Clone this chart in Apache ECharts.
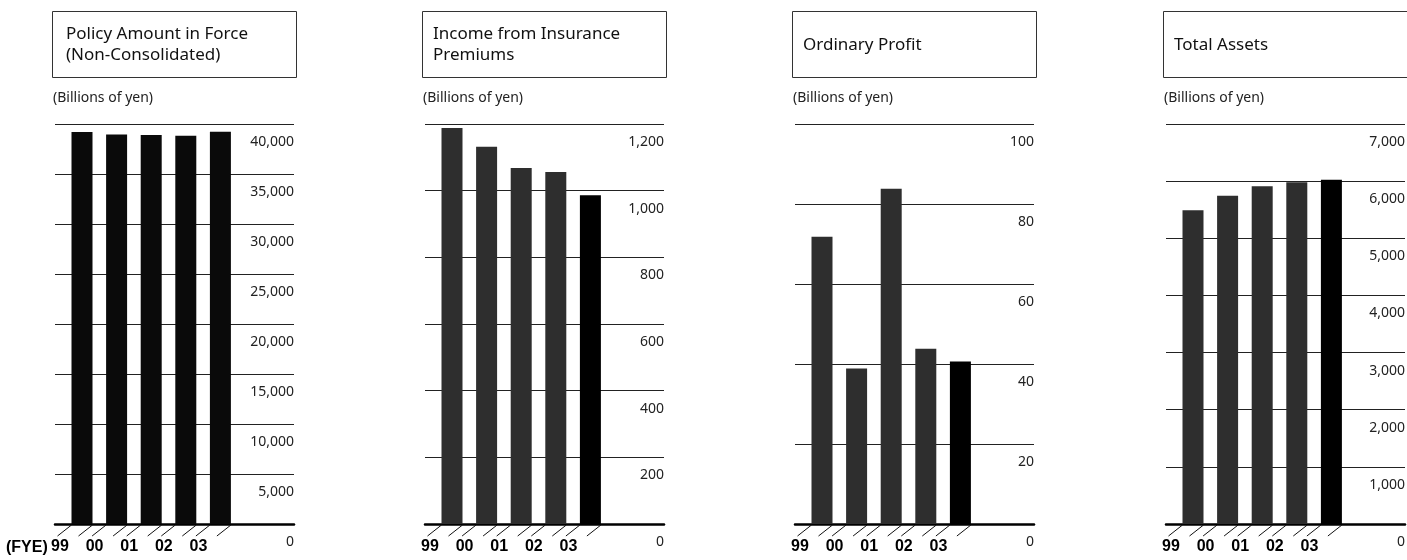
<!DOCTYPE html>
<html>
<head>
<meta charset="utf-8">
<script src="https://cdn.jsdelivr.net/npm/echarts@6/dist/echarts.min.js"></script>
<style>
  html, body { margin: 0; padding: 0; background: #fff; }
  #chart { width: 1407px; height: 560px; }
</style>
</head>
<body>
<div id="chart"></div>
<script>
// Fiscal years (FYE)
const years = ['99', '00', '01', '02', '03'];

// Billions of yen
const policyAmountInForce = [39200, 38960, 38900, 38830, 39230];
const insurancePremiumIncome = [1188, 1132, 1068, 1056, 986];
const ordinaryProfit = [71.8, 38.9, 83.8, 43.8, 40.6];
const totalAssets = [5490, 5745, 5910, 5980, 6025];

// Value axis ranges per panel
const axisMax = [40000, 1200, 100, 7000];
const axisStep = [5000, 200, 20, 1000];

const panelTitles = [
  'Policy Amount in Force\n(Non-Consolidated)',
  'Income from Insurance\nPremiums',
  'Ordinary Profit',
  'Total Assets'
];
const unitLabel = '(Billions of yen)';
const yearPrefix = '(FYE)';

const panelValues = [policyAmountInForce, insurancePremiumIncome, ordinaryProfit, totalAssets];

// Layout
const PANEL_LEFT = [55, 425, 795, 1166];
const PLOT_W = 239;
const PLOT_TOP = 124;
const PLOT_H = 400;
const BAND = 34.6;
const BAR_W = 21;
const FIRST_BAR_OFFSET = 27;
const TITLE_INDENT = [11, 8, 8, 8];

const YEAR_FONT = '"Liberation Sans", Arial, sans-serif';
const TEXT_FONT = '"Noto Sans", "Open Sans", sans-serif';

const chart = echarts.init(document.getElementById('chart'), null, { renderer: 'canvas' });

const grid = [], xAxis = [], yAxis = [], series = [], graphic = [];

panelValues.forEach((values, k) => {
  const left = PANEL_LEFT[k];
  const gA = 2 * k, gB = 2 * k + 1;

  // Full-width grid: horizontal rules, value labels, baseline
  grid.push({ left: left, top: PLOT_TOP, width: PLOT_W, height: PLOT_H, containLabel: false, outerBoundsMode: 'none' });
  // Bar grid: five year bands at the left of the panel
  grid.push({ left: left + FIRST_BAR_OFFSET - BAND / 2, top: PLOT_TOP, width: BAND * years.length, height: PLOT_H, containLabel: false, outerBoundsMode: 'none' });

  xAxis.push({
    gridIndex: gA, type: 'value', min: 0, max: 1,
    axisLine: { show: true, onZero: false, lineStyle: { color: '#000', width: 2.5 } },
    axisTick: { show: false }, axisLabel: { show: false }, splitLine: { show: false }
  });
  xAxis.push({
    gridIndex: gB, type: 'category', data: years, boundaryGap: true,
    axisLine: { show: false }, axisTick: { show: false }, splitLine: { show: false },
    axisLabel: {
      margin: 15, fontSize: 16, fontWeight: 'bold', fontFamily: YEAR_FONT, color: '#000',
      align: 'center', padding: [0, 44, 0, 0], interval: 0
    }
  });

  yAxis.push({
    gridIndex: gA, type: 'value', min: 0, max: axisMax[k], interval: axisStep[k], position: 'right',
    axisLine: { show: false }, axisTick: { show: false },
    splitLine: { show: true, lineStyle: { color: '#222', width: 1 } },
    axisLabel: {
      inside: true, margin: 0, verticalAlign: 'top', padding: [11, 0, 0, 0],
      fontSize: 14, fontFamily: TEXT_FONT, color: '#222',
      formatter: v => v.toLocaleString('en-US')
    }
  });
  yAxis.push({ gridIndex: gB, type: 'value', min: 0, max: axisMax[k], show: false });

  const lastIdx = values.length - 1;
  series.push({
    type: 'bar', xAxisIndex: gB, yAxisIndex: gB, data: values, barWidth: BAR_W,
    silent: true, animation: false,
    itemStyle: { color: p => (k === 0 ? '#0a0a0a' : (p.dataIndex === lastIdx ? '#000' : '#2e2e2e')) }
  });

  // Small slanted ticks under each bar edge
  series.push({
    type: 'custom', xAxisIndex: gB, yAxisIndex: gB, silent: true, animation: false,
    data: years.map((y, i) => [y, values[i]]),
    renderItem: (params, api) => {
      const base = api.coord([api.value(0), 0]);
      const half = BAR_W / 2;
      return {
        type: 'group',
        children: [-half, half].map(dx => ({
          type: 'line',
          shape: { x1: base[0] + dx, y1: base[1] + 1, x2: base[0] + dx - 14, y2: base[1] + 12 },
          style: { stroke: '#111', lineWidth: 1 }
        }))
      };
    }
  });

  // Title box, title and unit note
  graphic.push({
    type: 'rect', x: left - 2.5, y: 11.5, silent: true,
    shape: { x: 0, y: 0, width: 244, height: 66 },
    style: { fill: 'none', stroke: '#333', lineWidth: 1 }
  });
  graphic.push({
    type: 'text', x: left + TITLE_INDENT[k], y: 45, silent: true,
    style: {
      text: panelTitles[k], fontSize: 17, fontFamily: TEXT_FONT, fill: '#111',
      lineHeight: 21, verticalAlign: 'middle', align: 'left'
    }
  });
  graphic.push({
    type: 'text', x: left - 2, y: 98, silent: true,
    style: { text: unitLabel, fontSize: 14, fontFamily: TEXT_FONT, fill: '#222', verticalAlign: 'middle', align: 'left' }
  });
});

graphic.push({
  type: 'text', x: 6, y: 548, silent: true,
  style: { text: yearPrefix, fontSize: 16, fontWeight: 'bold', fontFamily: YEAR_FONT, fill: '#000', verticalAlign: 'middle', align: 'left' }
});

chart.setOption({
  backgroundColor: '#fff',
  animation: false,
  grid, xAxis, yAxis, series, graphic
});
</script>
</body>
</html>
